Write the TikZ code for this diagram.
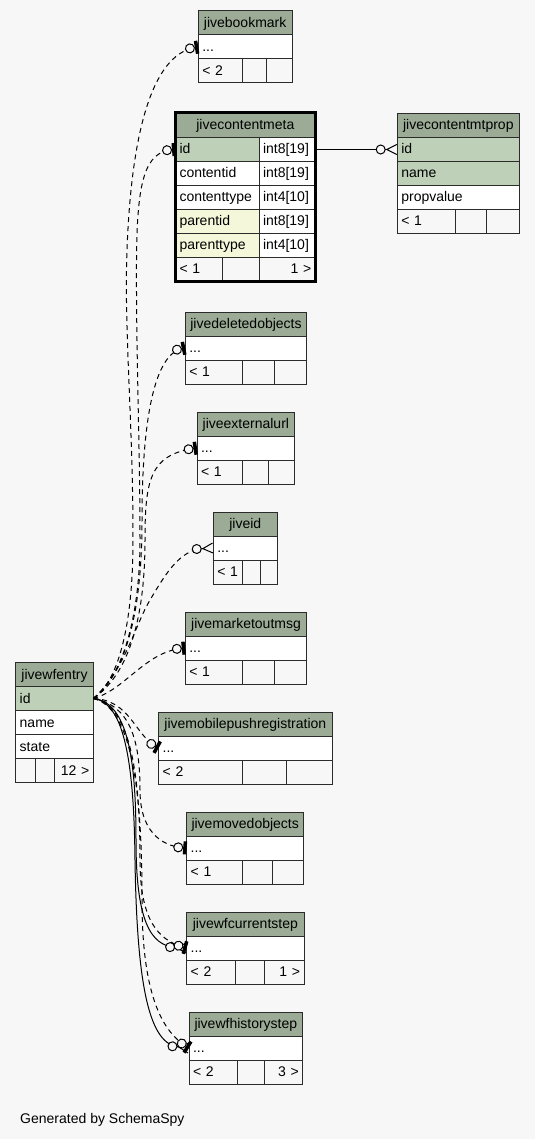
\documentclass[tikz,border=0pt]{standalone}
\usepackage{fontspec}
\setmainfont{Liberation Sans}
\usetikzlibrary{arrows.meta}
\definecolor{bgc}{HTML}{F7F7F7}
\definecolor{headc}{HTML}{9BAB96}
\definecolor{keyc}{HTML}{BED1B8}
\definecolor{idxc}{HTML}{F4F7DA}
\definecolor{tline}{HTML}{2B2B2B}
\newcommand\erfont{\fontsize{14}{16}\selectfont}
\tikzset{
  cell/.style={draw=tline, line width=1pt, anchor=north west, minimum height=24pt,
    inner xsep=4pt, inner ysep=0pt, outer sep=0pt, text height=11.5pt, text depth=2.5pt, font=\erfont},
  head/.style={cell, fill=headc, align=center},
  keyrow/.style={cell, fill=keyc, align=left},
  idxrow/.style={cell, fill=idxc, align=left},
  plainrow/.style={cell, fill=white, align=left},
  foot/.style={cell, fill=bgc, align=left},
  footr/.style={cell, fill=bgc, align=right},
  link/.style={line width=1pt, draw=black},
  implied/.style={link, dash pattern=on 5pt off 4pt},
  zeroone/.style={-{Circle[fill=bgc,length=10pt,width=10pt,sep=0pt]Rectangle[length=3.5pt,width=13pt]}},
  zeromany/.style={-{Circle[fill=bgc,length=10pt,width=10pt,sep=0pt]Straight Barb[reversed,length=10pt,width=10pt]}},
}
\begin{document}
\begin{tikzpicture}[x=1pt,y=-1pt]
\fill[bgc] (0,0) rectangle (535,1139);

\foreach \nm/\xl/\xr/\yt/\xa/\xb/\fl/\fr in {
  jivebookmark/198.3/292/11/242.7/266.7/{< 2}/{},
  jivedeletedobjects/185.3/306.7/312/242.7/274.3/{< 1}/{},
  jiveexternalurl/197/294.7/412/242.7/268/{< 1}/{},
  jiveid/213.3/277.3/512/242.7/260/{< 1}/{},
  jivemarketoutmsg/185.3/306.7/612/242.7/274.3/{< 1}/{},
  jivemobilepushregistration/158.7/332/712/242.7/286.7/{< 2}/{},
  jivemovedobjects/186.7/303.7/812/242.3/272.3/{< 1}/{},
  jivewfcurrentstep/186.7/304/912/235.7/264/{< 2}/{1 >},
  jivewfhistorystep/189/302.7/1012/237/264/{< 2}/{3 >}}{
  \pgfmathsetmacro\cwa{\xr-\xl}
  \pgfmathsetmacro\ctwa{\xr-\xl-8}
  \pgfmathsetmacro\cwb{\xa-\xl}
  \pgfmathsetmacro\ctwb{\xa-\xl-8}
  \pgfmathsetmacro\cwc{\xb-\xa}
  \pgfmathsetmacro\cwd{\xr-\xb}
  \pgfmathsetmacro\ctwd{\xr-\xb-8}
  \node[head, minimum width=\cwa pt, text width=\ctwa pt] (\nm) at (\xl,\yt) {\nm};
  \node[plainrow, minimum width=\cwa pt, text width=\ctwa pt] (\nm-row) at (\xl,\yt+24) {...};
  \node[foot, minimum width=\cwb pt, text width=\ctwb pt] (\nm-f1) at (\xl,\yt+48) {\fl};
  \node[foot, minimum width=\cwc pt] (\nm-f2) at (\xa,\yt+48) {};
  \node[footr, minimum width=\cwd pt, text width=\ctwd pt] (\nm-f3) at (\xb,\yt+48) {\fr};
}

\node[head, minimum width=139.7pt, minimum height=25pt, text width=131.7pt] (jivecontentmeta) at (175.5,112.5) {jivecontentmeta};
\node[keyrow, minimum width=83.5pt, text width=75.5pt] (jivecontentmeta-id) at (175.5,137.5) {id};
\node[plainrow, minimum width=56.2pt, text width=48.2pt] (jivecontentmeta-idtype) at (259,137.5) {int8[19]};
\node[plainrow, minimum width=83.5pt, text width=75.5pt] (jivecontentmeta-contentid) at (175.5,161.5) {contentid};
\node[plainrow, minimum width=56.2pt, text width=48.2pt] (jivecontentmeta-contentidtype) at (259,161.5) {int8[19]};
\node[plainrow, minimum width=83.5pt, text width=75.5pt] (jivecontentmeta-contenttype) at (175.5,185.5) {contenttype};
\node[plainrow, minimum width=56.2pt, text width=48.2pt] (jivecontentmeta-contenttypetype) at (259,185.5) {int4[10]};
\node[idxrow, minimum width=83.5pt, text width=75.5pt] (jivecontentmeta-parentid) at (175.5,209.5) {parentid};
\node[plainrow, minimum width=56.2pt, text width=48.2pt] (jivecontentmeta-parentidtype) at (259,209.5) {int8[19]};
\node[idxrow, minimum width=83.5pt, text width=75.5pt] (jivecontentmeta-parenttype) at (175.5,233.5) {parenttype};
\node[plainrow, minimum width=56.2pt, text width=48.2pt] (jivecontentmeta-parenttypetype) at (259,233.5) {int4[10]};
\node[foot, minimum width=47.2pt, text width=39.2pt] (jivecontentmeta-f1) at (175.5,257.5) {< 1};
\node[foot, minimum width=36.3pt] (jivecontentmeta-f2) at (222.7,257.5) {};
\node[footr, minimum width=56.2pt, text width=48.2pt] (jivecontentmeta-f3) at (259,257.5) {1 >};
\draw[black, line width=3pt] (jivecontentmeta.north west) rectangle (jivecontentmeta-f3.south east);

\node[head, minimum width=122pt, text width=114pt] (jivecontentmtprop) at (397.3,113.5) {jivecontentmtprop};
\node[keyrow, minimum width=122pt, text width=114pt] (jivecontentmtprop-id) at (397.3,137.5) {id};
\node[keyrow, minimum width=122pt, text width=114pt] (jivecontentmtprop-name) at (397.3,161.5) {name};
\node[plainrow, minimum width=122pt, text width=114pt] (jivecontentmtprop-propvalue) at (397.3,185.5) {propvalue};
\node[foot, minimum width=57.7pt, text width=49.7pt] (jivecontentmtprop-f1) at (397.3,209.5) {< 1};
\node[foot, minimum width=31.7pt] (jivecontentmtprop-f2) at (455,209.5) {};
\node[foot, minimum width=32.6pt] (jivecontentmtprop-f3) at (486.7,209.5) {};

\node[head, minimum width=77.6pt, text width=69.6pt] (jivewfentry) at (15.7,662.5) {jivewfentry};
\node[keyrow, minimum width=77.6pt, text width=69.6pt] (jivewfentry-id) at (15.7,686.5) {id};
\node[plainrow, minimum width=77.6pt, text width=69.6pt] (jivewfentry-name) at (15.7,710.5) {name};
\node[plainrow, minimum width=77.6pt, text width=69.6pt] (jivewfentry-state) at (15.7,734.5) {state};
\node[foot, minimum width=20pt] (jivewfentry-f1) at (15.7,758.5) {};
\node[foot, minimum width=19pt] (jivewfentry-f2) at (35.7,758.5) {};
\node[footr, minimum width=38.6pt, text width=30.6pt] (jivewfentry-f3) at (54.7,758.5) {12 >};

\draw[link, zeromany] (jivecontentmeta-idtype.east) -- (jivecontentmtprop-id.west);

\draw[implied, zeroone] (jivewfentry-id.east) .. controls (120,680) and (133,620) .. (133,540)
  .. controls (133,420) and (124,330) .. (127,250) .. controls (131,140) and (150,55) .. (jivebookmark-row.west);
\draw[implied, zeroone] (jivewfentry-id.east) .. controls (125,675) and (140,610) .. (140,540)
  .. controls (140,450) and (136,350) .. (136.5,260) .. controls (137,180) and (145,152) .. (jivecontentmeta-id.west);
\draw[implied, zeroone] (jivewfentry-id.east) .. controls (130,670) and (142,600) .. (142,520)
  .. controls (142,440) and (150,355) .. (jivedeletedobjects-row.west);
\draw[implied, zeroone] (jivewfentry-id.east) .. controls (132,672) and (145,610) .. (145,540)
  .. controls (145,480) and (150,455) .. (jiveexternalurl-row.west);
\draw[implied, zeromany] (jivewfentry-id.east) .. controls (125,670) and (135,625) .. (150,600)
  .. controls (166,573) and (180,550) .. (jiveid-row.west);
\draw[implied, zeroone] (jivewfentry-id.east) .. controls (125,690) and (145,652) .. (jivemarketoutmsg-row.west);
\draw[implied, zeroone] (jivewfentry-id.east) .. controls (130,700) and (135,735) .. (jivemobilepushregistration-row.west);
\draw[implied, zeroone] (jivewfentry-id.east) .. controls (130,705) and (140,740) .. (140,790)
  .. controls (140,830) and (160,846) .. (jivemovedobjects-row.west);
\draw[link, zeromany] (jivewfentry-id.east) .. controls (128,702) and (136,760) .. (136,840)
  .. controls (136,920) and (150,946) .. (jivewfcurrentstep-row.west);
\draw[implied, zeroone] (jivewfentry-id.east) .. controls (132,706) and (140,780) .. (140,860)
  .. controls (140,920) and (158,940) .. (jivewfcurrentstep-row.west);
\draw[link, zeromany] (jivewfentry-id.east) .. controls (126,702) and (134,770) .. (135,860)
  .. controls (137,990) and (150,1044) .. (jivewfhistorystep-row.west);
\draw[implied, zeroone] (jivewfentry-id.east) .. controls (134,708) and (142,800) .. (142,900)
  .. controls (142,990) and (160,1030) .. (jivewfhistorystep-row.west);

\node[anchor=west, font=\erfont] (credit) at (16.7,1120) {Generated by SchemaSpy};
\end{tikzpicture}
\end{document}
